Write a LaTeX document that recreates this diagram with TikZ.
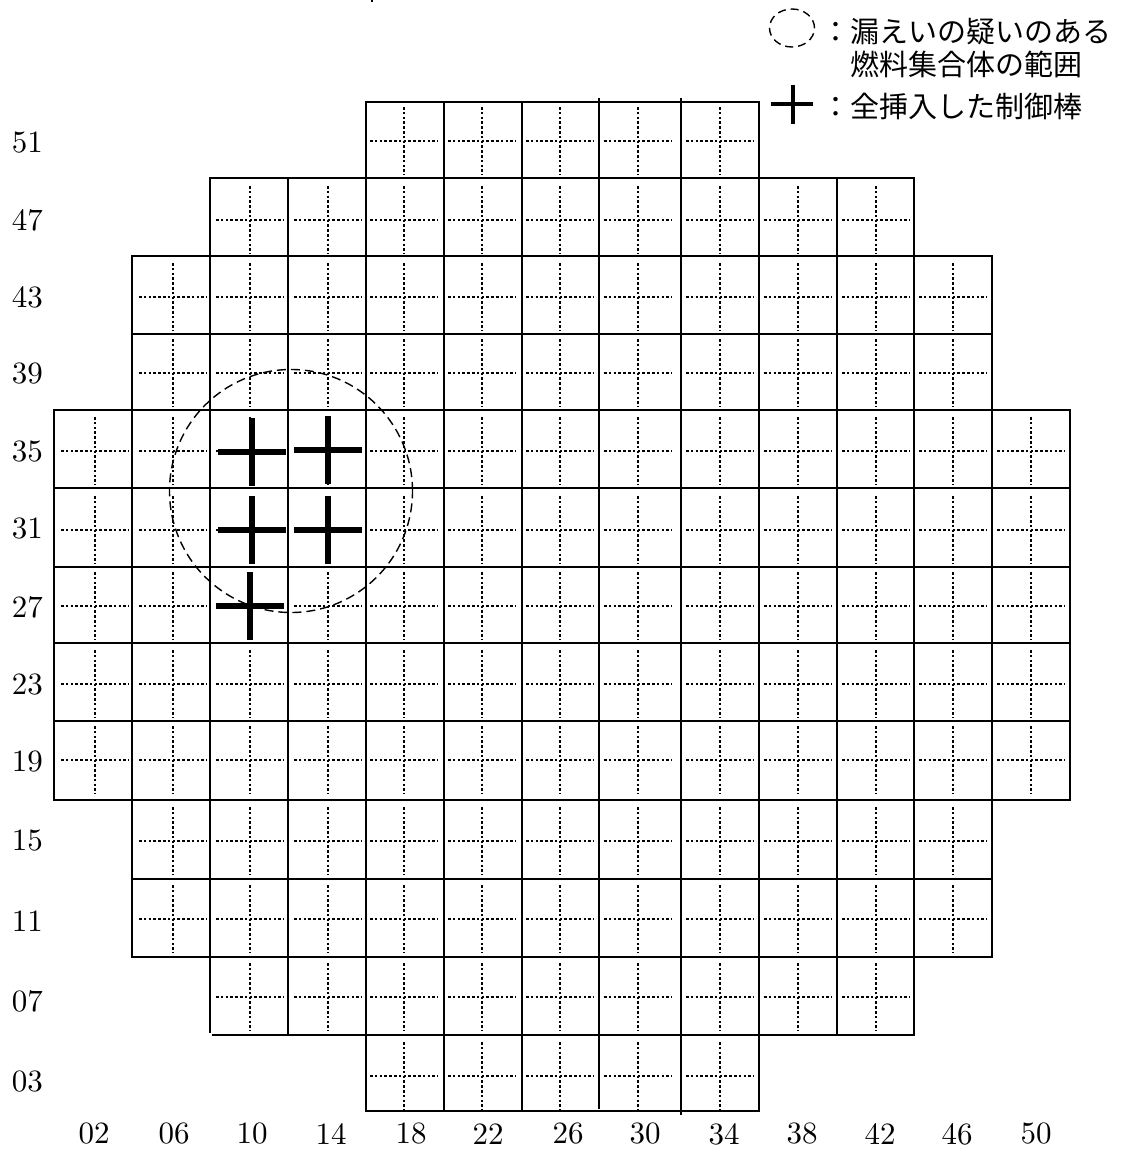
\documentclass[tikz,border=0pt]{standalone}
\usepackage{fontspec}
\usetikzlibrary{shapes.geometric}
\newfontfamily\jpfont{Noto Sans CJK JP}
\tikzset{
  gridline/.style={line width=2pt,black,line cap=rect},
  stubline/.style={line width=2pt,black},
  dotline/.style={line width=2.8pt,black,dash pattern=on 2.6pt off 2.2pt},
  rodline/.style={line width=5.5pt,black},
  rangeline/.style={line width=1.4pt,black,dash pattern=on 9pt off 5pt},
  axislabel/.style={inner sep=0pt},
  legendtext/.style={font=\jpfont\fontsize{29}{34}\selectfont,inner sep=0pt,anchor=west}
}
\newcommand{\axisnum}[1]{\scalebox{3.1}{\fontsize{10}{12}\selectfont #1}}
\def\GX{{54,132,210,288,366,443.5,521.7,599.3,680.7,758.7,836.5,914,992,1070}}
\def\GY{{101.7,177.5,256,334,410,488,566.5,643.3,721,800,879,957,1035,1111}}
\def\CX{{95,173,250,328,404,482,560,638,720,798,876,953,1031}}
\def\CY{{141,220,297,373,451,530,606,684,760,841,919,997,1076}}
\begin{document}
\begin{tikzpicture}[x=1pt,y=-1pt]
\useasboundingbox (0,0) rectangle (1120,1151);
\fill[white] (0,0) rectangle (1120,1151);
% dotted crosses
\foreach \r/\a/\b in {0/4/8,1/2/10,2/1/11,3/1/11,4/0/12,5/0/12,6/0/12,7/0/12,8/0/12,9/1/11,10/1/11,11/2/10,12/4/8}{
  \foreach \c in {\a,...,\b}{
    \pgfmathsetmacro{\cx}{\CX[\c]}
    \pgfmathsetmacro{\cy}{\CY[\r]}
    \draw[dotline] (\cx-34,\cy) -- (\cx+34,\cy);
    \draw[dotline] (\cx,\cy-34) -- (\cx,\cy+34);
  }
}
% horizontal grid lines: line index, first and last x index
\foreach \r/\a/\b in {0/4/9,1/2/11,2/1/12,3/1/12,4/0/13,5/0/13,6/0/13,7/0/13,8/0/13,9/0/13,10/1/12,11/1/12,13/4/9}{
  \pgfmathsetmacro{\yy}{\GY[\r]}
  \pgfmathsetmacro{\xa}{\GX[\a]}
  \pgfmathsetmacro{\xb}{\GX[\b]}
  \draw[gridline] (\xa,\yy) -- (\xb,\yy);
}
\draw[gridline] (213,1035) -- (914,1035);
% vertical grid lines: line index, first and last y index
\foreach \c/\a/\b in {0/4/9,1/2/11,3/1/12,4/0/13,5/0/13,6/0/13,8/0/13,9/0/13,10/1/12,11/1/12,12/2/11,13/4/9}{
  \pgfmathsetmacro{\xx}{\GX[\c]}
  \pgfmathsetmacro{\ya}{\GY[\a]}
  \pgfmathsetmacro{\yb}{\GY[\b]}
  \draw[gridline] (\xx,\ya) -- (\xx,\yb);
}
\draw[gridline] (210,177.5) -- (210,1032);
\draw[gridline] (599.3,101.7) -- (599.3,1108);
% small overshoots of the hand-drawn grid
\draw[stubline] (599.3,98) -- (599.3,102);
\draw[stubline] (680.7,98) -- (680.7,102);
\draw[stubline] (680.7,1111) -- (680.7,1115);
\draw[stubline] (372,0) -- (372,2);
% inserted control rods
\foreach \x/\y in {252/452,328/450,252/530,328/530,250/606}{
  \draw[rodline] (\x-34,\y) -- (\x+34,\y);
  \draw[rodline] (\x,\y-34) -- (\x,\y+34);
}
% suspect range
\node[draw,circle,rangeline,minimum size=243pt,inner sep=0pt] (range) at (291,491) {};
% axis labels
\foreach \t/\y in {51/143,47/220,43/297,39/374,35/452,31/529,27/607,23/685,19/762,15/841,11/921,07/1001,03/1082}{
  \node[axislabel] (row\t) at (27.5,\y) {\axisnum{\t}};
}
\foreach \t/\x in {02/94,06/174,10/252,14/331,18/411,22/488,26/568,30/645,34/724,38/802,42/880,46/957,50/1036}{
  \node[axislabel] (col\t) at (\x,1134) {\axisnum{\t}};
}
% legend
\node[draw,ellipse,line width=1.4pt,black,dash pattern=on 8pt off 5pt,minimum width=45pt,minimum height=38pt,inner sep=0pt] (legrange) at (792,28) {};
\draw[line width=3.5pt] (771,104) -- (813,104);
\draw[line width=3.5pt] (793,85) -- (793,124);
\node[legendtext] (leg1) at (821,32) {：漏えいの疑いのある};
\node[legendtext] (leg2) at (850,64) {燃料集合体の範囲};
\node[legendtext] (leg3) at (821,106) {：全挿入した制御棒};
\end{tikzpicture}
\end{document}
